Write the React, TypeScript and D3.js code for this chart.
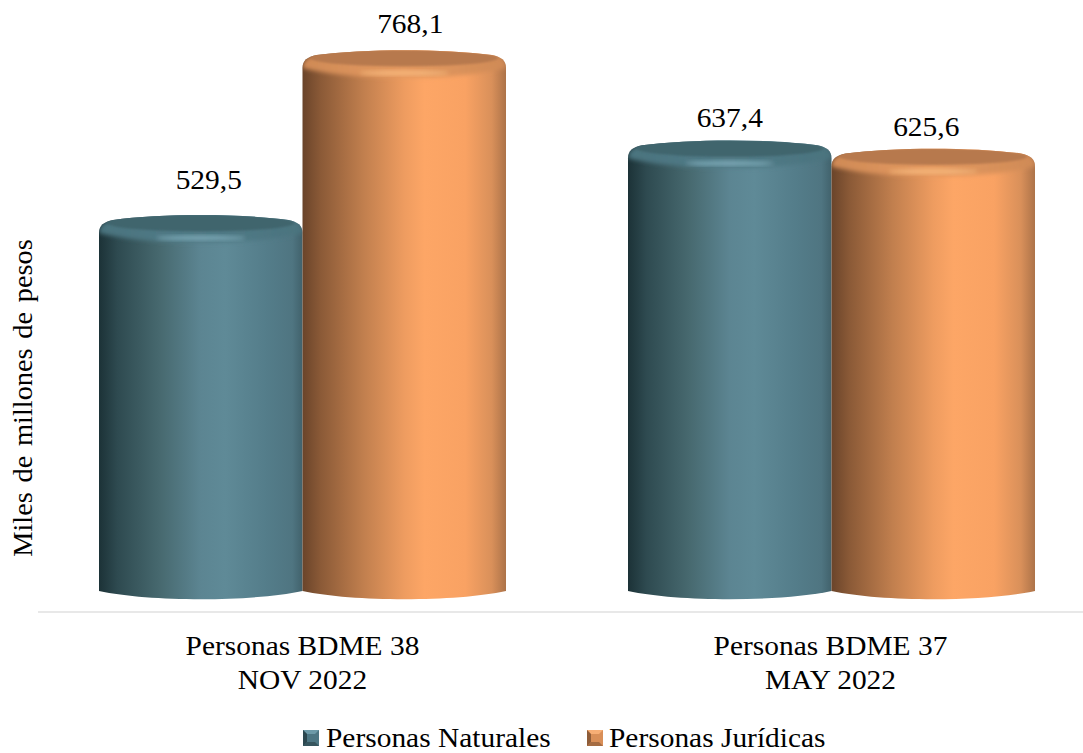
import React from 'react';
import * as d3 from 'd3';

const categories = ['Personas BDME 38|NOV 2022', 'Personas BDME 37|MAY 2022'];
const seriesNames = ['Personas Naturales', 'Personas Jurídicas'];
const naturales = [529.5, 637.4];
const juridicas = [768.1, 625.6];
const yTitle = 'Miles de millones de pesos';

const width = 1083;
const height = 753;
const FONT = '"Liberation Serif", "Times New Roman", serif';
const STRETCH = 1.09; // reference text is a little wider than the font

// hand nudges of the value labels, [series][category]
const labelDx = [[8, 0], [6, -7]];
const labelDy = [[-37, -24], [-28, -24]];

const palette = [
    { id: 'nat', top: '#41656d', bevelEdge: '#4a737e', bevel: '#527c88', shine: '#8fbcca', legend: '#4d7683', legendDark: '#2c474f', legendLight: '#6d9aa8',
      stops: [['0%', '#1c3237'], ['9%', '#2e4a50'], ['30%', '#47696f'], ['50%', '#5c8592'], ['62%', '#5f8a97'], ['82%', '#547d8a'], ['95%', '#4f7581'], ['100%', '#41626c']] },
    { id: 'jur', top: '#b7794e', bevelEdge: '#cf8a56', bevel: '#e59a60', shine: '#ffc488', legend: '#d98f58', legendDark: '#8f5d39', legendLight: '#f7ae75',
      stops: [['0%', '#6a442a'], ['9%', '#8b5a37'], ['30%', '#c17f4e'], ['50%', '#ee9c60'], ['60%', '#fda666'], ['80%', '#f9a263'], ['93%', '#d9905a'], ['100%', '#ad7349']] },
];

const x0 = d3.scaleBand<string>().domain(categories).range([38, 1096]);
const groupWidth = 407;
const groupOffset = (x0.bandwidth() - groupWidth) / 2;
const x1 = d3.scaleBand<string>().domain(seriesNames).range([0, groupWidth]);
const y = d3.scaleLinear().domain([0, 768.1]).range([592, 61]);

const lidTop = (p: d3.Path, x: number, w: number, yc: number) => {
    p.moveTo(x, yc + 7);
    p.bezierCurveTo(x, yc - 1, x + 5, yc - 4, x + 14, yc - 6);
    p.bezierCurveTo(x + w * 0.3, yc - 12.5, x + w * 0.7, yc - 12.5, x + w - 14, yc - 6);
    p.bezierCurveTo(x + w - 5, yc - 4, x + w, yc - 1, x + w, yc + 7);
};

// cylinder side with rounded shoulder at the top
const sidePath = (x: number, w: number, yc: number, base: number) => {
    const p = d3.path();
    lidTop(p, x, w, yc);
    p.lineTo(x + w, base - 1);
    p.bezierCurveTo(x + w * 0.75, base + 10, x + w * 0.25, base + 10, x, base - 1);
    p.closePath();
    return p.toString();
};

// lighter band under the lid
const bevelPath = (x: number, w: number, yc: number) => {
    const p = d3.path();
    lidTop(p, x, w, yc);
    p.bezierCurveTo(x + w * 0.75, yc + 20, x + w * 0.25, yc + 20, x, yc + 7);
    p.closePath();
    return p.toString();
};

const Cylinder = ({ id, x, w, value, s }: { id: string; x: number; w: number; value: number; s: number }) => {
    const c = palette[s];
    const yc = y(value);
    const side = sidePath(x, w, yc, y(0));
    return (
        <g>
            <clipPath id={id}><path d={side} /></clipPath>
            <path d={side} fill={`url(#side-${c.id})`} />
            <g clipPath={`url(#${id})`}>
                <path d={bevelPath(x, w, yc)} fill={`url(#bevel-${c.id})`} filter="url(#soft)" />
                <ellipse cx={x + w / 2} cy={yc - 3} rx={w / 2 - 8} ry={8.5} fill={c.top} filter="url(#soft1)" />
                <ellipse cx={x + w / 2} cy={yc + 12} rx={w * 0.22} ry={1.8} fill={c.shine} opacity={0.85} filter="url(#soft)" />
            </g>
        </g>
    );
};

const Label = ({ x, y: ly, anchor = 'middle', children, size = 27 }: any) => (
    <text transform={`translate(${x},${ly}) scale(${STRETCH},1)`} textAnchor={anchor} fontSize={size}>{children}</text>
);

const App = () => {
    return (
        <svg width={width} height={height} style={{ position: 'absolute', left: 0, top: 0 }} fontFamily={FONT} fill="#000">
            <defs>
                <filter id="soft" x="-5%" y="-50%" width="110%" height="200%">
                    <feGaussianBlur stdDeviation="2" />
                </filter>
                <filter id="soft1" x="-5%" y="-50%" width="110%" height="200%">
                    <feGaussianBlur stdDeviation="1.2" />
                </filter>
                {palette.map(c => (
                    <React.Fragment key={c.id}>
                        <linearGradient id={`side-${c.id}`} x1="0" x2="1" y1="0" y2="0">
                            {c.stops.map(st => <stop key={st[0]} offset={st[0]} stopColor={st[1]} />)}
                        </linearGradient>
                        <linearGradient id={`bevel-${c.id}`} x1="0" x2="1" y1="0" y2="0">
                            <stop offset="0%" stopColor={c.bevelEdge} />
                            <stop offset="50%" stopColor={c.bevel} />
                            <stop offset="100%" stopColor={c.bevelEdge} />
                        </linearGradient>
                    </React.Fragment>
                ))}
            </defs>

            <rect x={38} y={611} width={1045} height={2} fill="#e8e8e8" />

            {categories.map((cat, i) => {
                const gx = (x0(cat) as number) + groupOffset;
                const values = [naturales[i], juridicas[i]];
                return (
                    <g key={cat}>
                        {seriesNames.map((name, s) => {
                            const bx = gx + (x1(name) as number);
                            const w = x1.bandwidth();
                            return (
                                <g key={name}>
                                    <Cylinder id={`clip-${i}-${s}`} x={bx} w={w} value={values[s]} s={s} />
                                    <Label x={bx + w / 2 + labelDx[s][i]} y={y(values[s]) + labelDy[s][i]}>
                                        {values[s].toFixed(1).replace('.', ',')}
                                    </Label>
                                </g>
                            );
                        })}
                        {cat.split('|').map((line, k) => (
                            <Label key={line} x={(x0(cat) as number) + x0.bandwidth() / 2 - i} y={655 + k * 34}>{line}</Label>
                        ))}
                    </g>
                );
            })}

            <text transform={`translate(32,398) rotate(-90) scale(1.05,1)`} textAnchor="middle" fontSize={27} wordSpacing={2.5}>{yTitle}</text>

            {seriesNames.map((name, s) => {
                const lx = [303, 587][s];
                const c = palette[s];
                return (
                    <g key={name}>
                        <rect x={lx} y={730} width={16} height={16} fill={c.legend} />
                        <path d={`M${lx},730 h16 l-4,4 h-8 z`} fill={c.legendLight} />
                        <path d={`M${lx},730 v16 l4,-4 v-8 z`} fill={c.legendDark} />
                        <path d={`M${lx},746 h16 l-4,-4 h-8 z`} fill={c.legendDark} opacity={0.7} />
                        <Label x={lx + 23 - s} y={747} anchor="start">{name}</Label>
                    </g>
                );
            })}
        </svg>
    );
};

export default App;
